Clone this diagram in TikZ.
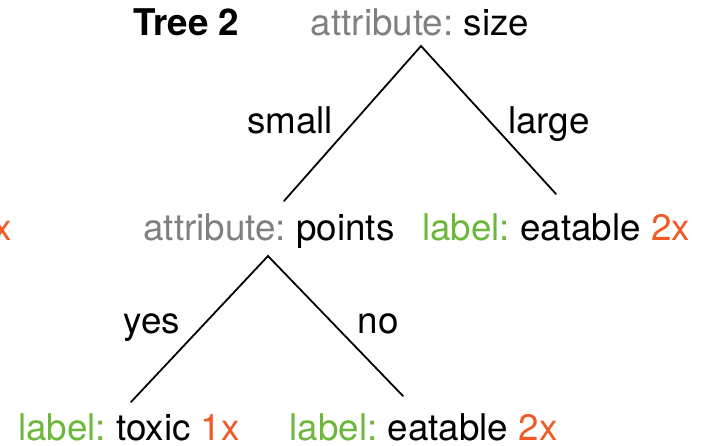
\documentclass[tikz,border=0pt]{standalone}
\usepackage{fontspec}
\setmainfont{TeX Gyre Heros}
\usetikzlibrary{positioning,calc}

\definecolor{attrgray}{RGB}{128,128,128}
\definecolor{labelgreen}{RGB}{108,184,60}
\definecolor{countorange}{RGB}{241,90,36}

\tikzset{
	txt/.style={anchor=base, inner sep=0pt, font=\fontsize{18.4}{22}\selectfont\frenchspacing},
	branch/.style={line width=0.9pt, line cap=round}
}

\begin{document}
\begin{tikzpicture}[x=0.5pt, y=-0.5pt]
				\useasboundingbox (0,0) rectangle (704,445);
				\node[txt, anchor=base west, font=\fontsize{18.4}{22}\selectfont\bfseries] (title) at (133,35) {Tree 2};
				\node[txt, text=countorange, anchor=base east] (cut) at (12,240) {x};
				% attribute nodes
				\node[txt] (size) at (420,35) {\textcolor{attrgray}{attribute:} size};
				\node[txt] (points) at (269,240) {\textcolor{attrgray}{attribute:} points};
				% leaves
				\node[txt] (eatA) at (556,240) {\textcolor{labelgreen}{label:} eatable \textcolor{countorange}{2x}};
				\node[txt] (toxic) at (129,440) {\textcolor{labelgreen}{label:} toxic \textcolor{countorange}{1x}};
				\node[txt] (eatB) at (423.5,440) {\textcolor{labelgreen}{label:} eatable \textcolor{countorange}{2x}};
				% branch ends
				\coordinate (sizeTop) at (421,46);
				\coordinate (smallEnd) at (284,201);
				\coordinate (largeEnd) at (556,194);
				\coordinate (pointsTop) at (268,256);
				\coordinate (yesEnd) at (131,402);
				\coordinate (noEnd) at (403,396);
				\draw[branch] (smallEnd) -- (sizeTop) -- (largeEnd);
				\draw[branch] (yesEnd) -- (pointsTop) -- (noEnd);
				% edge labels
				\node[txt] (small) at (290,133) {small};
				\node[txt] (large) at (549,133) {large};
				\node[txt] (yes) at (152,333) {yes};
				\node[txt] (no) at (378,333) {no};
			\end{tikzpicture}
\end{document}
